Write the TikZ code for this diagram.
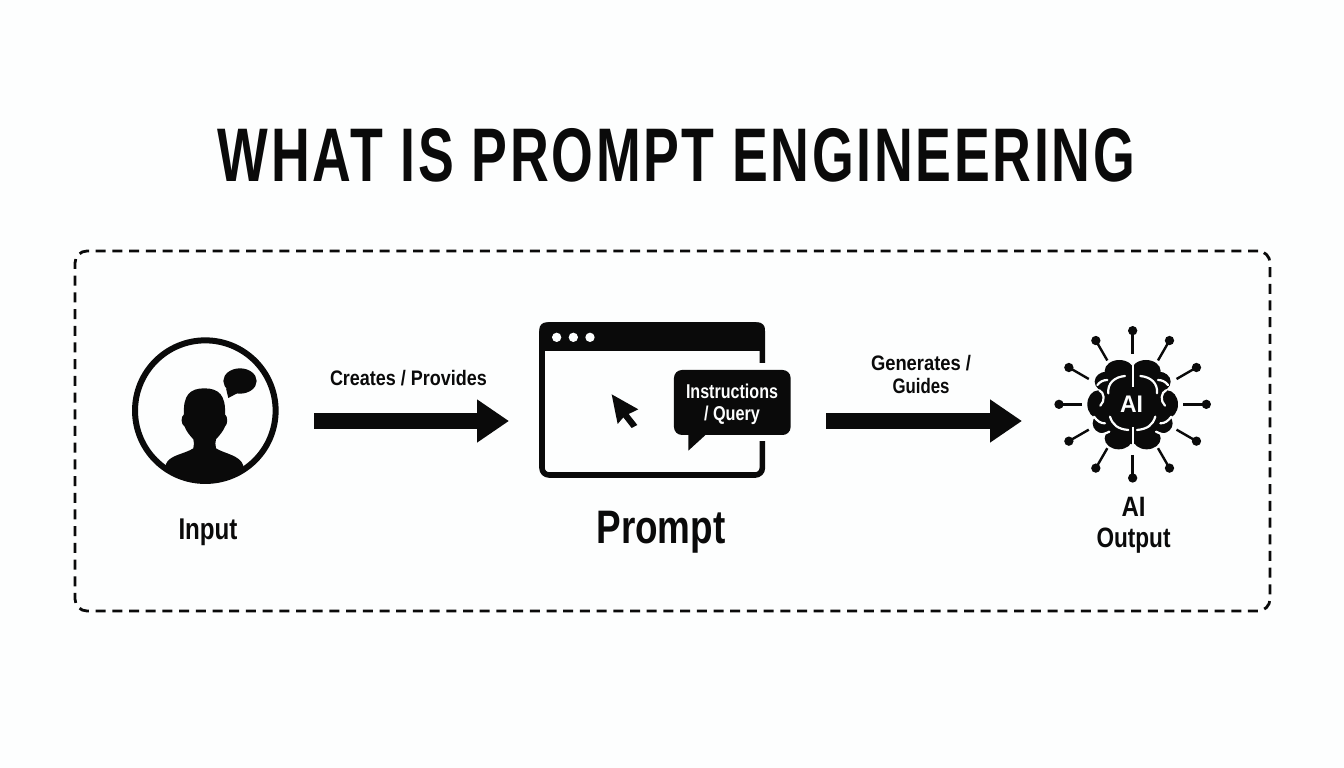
\documentclass[tikz,border=0pt]{standalone}
\usepackage{graphicx}
\usepackage{fontspec}
\setmainfont{Liberation Sans}
\usetikzlibrary{arrows.meta,calc}
\definecolor{ink}{HTML}{0A0A0A}
\definecolor{paper}{HTML}{FDFEFE}
\newcommand{\fitw}[2]{\resizebox{#1pt}{\height}{#2}}
\newcommand{\fs}[2]{\fontsize{#1}{#2}\selectfont\bfseries}
\tikzset{
  label/.style={text=ink,inner sep=0pt,align=center},
  flow/.style={draw=ink,line width=16pt,-{Triangle[length=32pt,width=41pt]},shorten >=0pt},
  zoomA/.style={shift={(110,320)},x=0.3333pt,y=-0.3333pt},
  zoomB/.style={shift={(520,310)},x=0.3333pt,y=-0.3333pt},
  zoomC/.style={shift={(1040,315)},x=0.3333pt,y=-0.3333pt},
  spoke/.style={draw=ink,line width=2.4pt},
  fold/.style={draw=paper,line width=2.2pt,line cap=round},
}
\begin{document}
\begin{tikzpicture}[x=1pt,y=-1pt]
\useasboundingbox (0,0) rectangle (1344,768);
\fill[paper] (0,0) rectangle (1344,768);
% title
\node[label,font={\fs{76}{80}\addfontfeatures{LetterSpace=5}}] (title) at (676.5,155.5) {\fitw{917}{WHAT IS PROMPT ENGINEERING}};
% frame
\node[draw=ink,line width=2.8pt,dash pattern=on 10pt off 6.7pt,rounded corners=12pt,minimum width=1195pt,minimum height=360pt,inner sep=0pt] (frame) at (672.5,431) {};
% person
\begin{scope}[zoomA]
  \begin{scope}
    \clip (286,272) circle [radius=212];
    \fill[ink] (168,432) .. controls (178,405) and (225,402) .. (250,385)
      .. controls (253,375) and (252,365) .. (250,358)
      .. controls (238,345) and (228,332) .. (224,320)
      .. controls (212,312) and (212,290) .. (222,283)
      .. controls (219,225) and (240,205) .. (283,205)
      .. controls (326,205) and (348,225) .. (345,283)
      .. controls (354,290) and (354,312) .. (345,320)
      .. controls (340,332) and (330,345) .. (318,358)
      .. controls (316,365) and (315,375) .. (318,385)
      .. controls (345,402) and (390,405) .. (400,437)
      -- (400,520) -- (168,520) -- cycle;
  \end{scope}
  \fill[ink] (390,183) ellipse [x radius=50,y radius=38];
  \fill[ink] (348,205) -- (355,234) -- (385,218) -- cycle;
  \node[draw=ink,line width=6pt,circle,minimum size=140.6pt,inner sep=0pt] (person) at (286,272) {};
\end{scope}
\node[label,font=\fs{30}{32}] (input) at (208,532) {\fitw{59}{Input}};
% browser
\begin{scope}[zoomB]
  \draw[ink,line width=5.6pt,rounded corners=7pt,fill=paper] (66,45) rectangle (727,495);
  \fill[ink,rounded corners=7pt] (58,37) rectangle (735,100);
  \fill[ink] (58,70) rectangle (735,122);
  \fill[paper] (700,160) rectangle (750,393);
  \foreach \px in {110,160,210} \fill[paper] (\px,82) circle [radius=14];
  \fill[ink] (275,253) -- (355,298) -- (326,312) -- (352,345) -- (335,354) -- (310,322) -- (293,342) -- cycle;
  \fill[ink] (505,365) -- (505,422) -- (562,370) -- cycle;
  \fill[ink,rounded corners=8pt] (462,180) rectangle (812,375);
  \coordinate (browser) at (396,270);
\end{scope}
\node[label,text=paper,font=\fs{20}{22}] (query) at (732,404.5) {\fitw{92}{Instructions}\\\fitw{56}{/ Query}};
\node[label,font=\fs{47}{50}] (prompt) at (661,532) {\fitw{129}{Prompt}};
% brain
\begin{scope}[zoomC]
  \coordinate (brain) at (278,268);
  \foreach \a in {0,30,...,330} {
    \draw[spoke] ($(278,268)+(\a:152)$) -- ($(278,268)+(\a:215)$);
    \fill[ink] ($(278,268)+(\a:221)$) circle [radius=14];
  }
  \foreach \s in {1,-1} {
    \begin{scope}[shift={(278,0)},xscale=\s]
      \fill[ink] (2,150) -- (-85,190) -- (-112,268) -- (-90,345) -- (2,390) -- cycle;
      \fill[ink] (-40,168) ellipse [x radius=44,y radius=33];
      \fill[ink] (-78,200) ellipse [x radius=36,y radius=30];
      \fill[ink] (-103,268) ellipse [x radius=33,y radius=42];
      \fill[ink] (-88,325) ellipse [x radius=32,y radius=30];
      \fill[ink] (-42,370) ellipse [x radius=42,y radius=33];
      \draw[fold] (-73,235) .. controls (-76,205) and (-55,186) .. (-23,183);
      \draw[fold] (-100,226) .. controls (-85,232) and (-82,258) .. (-97,272);
      \draw[fold] (-68,305) .. controls (-60,330) and (-45,342) .. (-13,345);
      \draw[fold] (-116,305) .. controls (-105,320) and (-95,325) .. (-83,325);
      \draw[fold] (-106,210) .. controls (-98,200) and (-88,195) .. (-76,195);
      \draw[fold] (-104,358) .. controls (-94,360) and (-82,356) .. (-70,350);
    \end{scope}
  }
  \draw[draw=paper,line width=2.3pt] (278,130) -- (278,215) (278,335) -- (278,408);
\end{scope}
\node[label,text=paper,font=\fs{24}{26}] (ailabel) at (1131.5,404) {\fitw{23}{AI}};
\node[label,font=\fs{28}{31}] (output) at (1133.5,525.5) {\fitw{24}{AI}\\\fitw{74}{Output}};
% arrows
\coordinate (a1s) at (314,421);
\coordinate (a1e) at (509,421);
\coordinate (a2s) at (826,421);
\coordinate (a2e) at (1022,421);
\draw[flow] (a1s) -- (a1e);
\draw[flow] (a2s) -- (a2e);
\node[label,font=\fs{21}{23}] (l1) at (408.5,378) {\fitw{157}{Creates / Provides}};
\node[label,font=\fs{21}{23}] (l2) at (921,374) {\fitw{100}{Generates /}\\\fitw{57}{Guides}};
\end{tikzpicture}
\end{document}
